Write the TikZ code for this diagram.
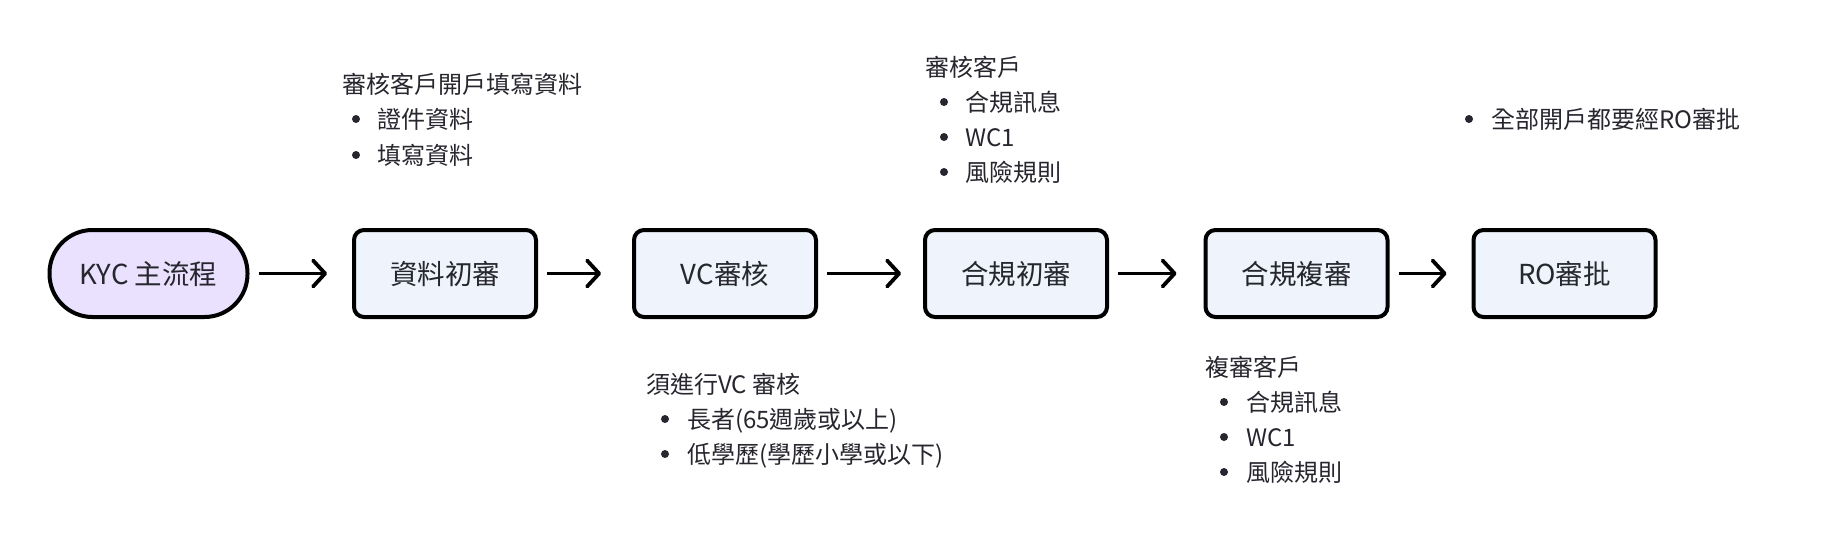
\documentclass[tikz,border=0pt]{standalone}
\usepackage{fontspec}
\setmainfont{Noto Sans CJK TC}
\usetikzlibrary{arrows.meta}
\definecolor{pillfill}{RGB}{233,225,253}
\definecolor{boxfill}{RGB}{238,243,252}
\definecolor{txt}{RGB}{38,38,46}
\tikzset{
  stepbox/.style={draw=black, line width=4pt, fill=boxfill, rounded corners=10pt,
    minimum width=182pt, minimum height=87pt, inner sep=0pt, text=txt,
    font=\fontsize{27.5}{33}\selectfont, text height=23pt, text depth=2pt},
  pill/.style={stepbox, fill=pillfill, rounded corners=43pt, minimum width=198pt},
  flow/.style={line width=3.8pt, line cap=butt,
    -{Straight Barb[length=12pt,width=26pt,line width=3.8pt,round]}, shorten <=9pt},
  note/.style={anchor=west, inner sep=0pt, text=txt,
    font=\fontsize{24}{29}\selectfont, text height=20pt, text depth=2pt},
  bul/.style={circle, fill=txt, draw=none, inner sep=0pt, minimum size=8pt},
}
\begin{document}
\begin{tikzpicture}[x=1pt,y=-1pt]
\useasboundingbox (0,0) rectangle (1836,536);
% main flow
\node[pill]    (kyc) at (148.5,273.5) {KYC 主流程};
\node[stepbox] (b1)  at (445,273.5)   {資料初審};
\node[stepbox] (b2)  at (725,273.5)   {VC審核};
\node[stepbox] (b3)  at (1016,273.5)  {合規初審};
\node[stepbox] (b4)  at (1296.5,273.5){合規複審};
\node[stepbox] (b5)  at (1564.5,273.5){RO審批};
\draw[flow, shorten >=25pt] (kyc) -- (b1);
\draw[flow, shorten >=31pt] (b1) -- (b2);
\draw[flow, shorten >=22pt] (b2) -- (b3);
\draw[flow, shorten >=27pt] (b3) -- (b4);
\draw[flow, shorten >=25pt] (b4) -- (b5);
% note above 資料初審
\node[note] (n1t) at (342,84) {審核客戶開戶填寫資料};
\node[bul]  (n1d1) at (356,119) {};
\node[note] (n1a) at (377,119) {證件資料};
\node[bul]  (n1d2) at (356,155) {};
\node[note] (n1b) at (377,155) {填寫資料};
% note below VC審核
\node[note] (n2t) at (646,384) {須進行VC 審核};
\node[bul]  (n2d1) at (665,419) {};
\node[note] (n2a) at (687,419) {長者(65週歲或以上)};
\node[bul]  (n2d2) at (665,454) {};
\node[note] (n2b) at (687,454) {低學歷(學歷小學或以下)};
% note above 合規初審
\node[note] (n3t) at (925,67) {審核客戶};
\node[bul]  (n3d1) at (944,102) {};
\node[note] (n3a) at (965,102) {合規訊息};
\node[bul]  (n3d2) at (944,137) {};
\node[note] (n3b) at (965,137) {WC1};
\node[bul]  (n3d3) at (944,172) {};
\node[note] (n3c) at (965,172) {風險規則};
% note below 合規複審
\node[note] (n4t) at (1205,367) {複審客戶};
\node[bul]  (n4d1) at (1224,402) {};
\node[note] (n4a) at (1246,402) {合規訊息};
\node[bul]  (n4d2) at (1224,437) {};
\node[note] (n4b) at (1246,437) {WC1};
\node[bul]  (n4d3) at (1224,472) {};
\node[note] (n4c) at (1246,472) {風險規則};
% note above RO審批
\node[bul]  (n5d1) at (1469,119) {};
\node[note] (n5a) at (1491,119) {全部開戶都要經RO審批};
\end{tikzpicture}
\end{document}
